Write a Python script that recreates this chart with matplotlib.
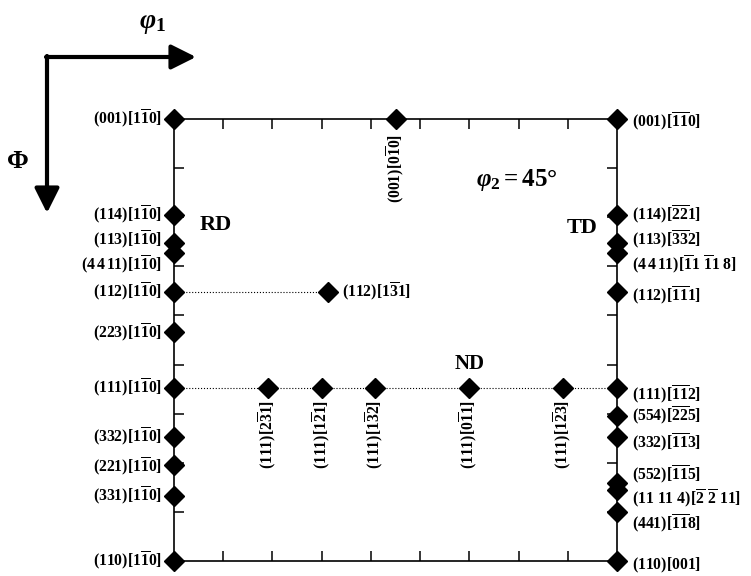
import matplotlib
matplotlib.use("Agg")
import matplotlib.pyplot as plt
from matplotlib.patches import FancyArrowPatch

plt.rcParams['font.family'] = ['Liberation Serif', 'DejaVu Serif']
plt.rcParams['font.weight'] = 'bold'
plt.rcParams['mathtext.fontset'] = 'custom'
plt.rcParams['mathtext.rm'] = 'Liberation Serif:bold'
plt.rcParams['mathtext.bf'] = 'Liberation Serif:bold'
plt.rcParams['mathtext.it'] = 'Liberation Serif:bold:italic'
plt.rcParams['mathtext.default'] = 'rm'

# phi2 = 45 deg section: Phi (deg) of each ideal orientation along phi1 = 0 and phi1 = 90
left_Phi = [0, 19.47, 25.24, 27.22, 35.26, 43.31, 54.74, 64.76, 70.53, 76.74, 90]
left_labels = [r'$(001)[1\overline{1}0]$', r'$(114)[1\overline{1}0]$', r'$(113)[1\overline{1}0]$',
               r'$(4\,4\,11)[1\overline{1}0]$', r'$(112)[1\overline{1}0]$', r'$(223)[1\overline{1}0]$',
               r'$(111)[1\overline{1}0]$', r'$(332)[1\overline{1}0]$', r'$(221)[1\overline{1}0]$',
               r'$(331)[1\overline{1}0]$', r'$(110)[1\overline{1}0]$']

right_Phi = [0, 19.47, 25.24, 27.22, 35.26, 54.74, 60.50, 64.76, 74.21, 75.64, 79.98, 90]
right_labels = [r'$(001)[\overline{11}0]$', r'$(114)[\overline{22}1]$', r'$(113)[\overline{33}2]$',
                r'$(4\,4\,11)[\overline{1}1\ \overline{1}1\ 8]$', r'$(112)[\overline{11}1]$',
                r'$(111)[\overline{11}2]$', r'$(554)[\overline{22}5]$', r'$(332)[\overline{11}3]$',
                r'$(552)[\overline{11}5]$', r'$(11\ 11\ 4)[\overline{2}\ \overline{2}\ 11]$',
                r'$(441)[\overline{11}8]$', r'$(110)[001]$']

# (111) fibre at Phi = 54.74
fib_phi1 = [19.1, 30, 40.9, 60, 79.1]
fib_labels = [r'$(111)[2\overline{3}1]$', r'$(111)[1\overline{2}1]$', r'$(111)[1\overline{3}2]$',
              r'$(111)[0\overline{1}1]$', r'$(111)[1\overline{2}3]$']

top_phi1, top_Phi, top_label = 45, 0, r'$(001)[0\overline{1}0]$'
mid_phi1, mid_Phi, mid_label = 31.3, 35.26, r'$(112)[1\overline{3}1]$'

# label nudges (points, vertical)
left_dy = [0, 0, 2, -9, 0, -1, 0, 0, -1, 0, 0]
right_dy = [-2, 0, 2, -9, -3, -5, 0, -4, 6, -6, -9, -3]

fig = plt.figure(figsize=(7.51, 5.76), dpi=100)
ax = fig.add_axes([174 / 751, 1 - 561 / 576, 443 / 751, 442 / 576])
ax.set_xlim(0, 90)
ax.set_ylim(90, 0)
ax.set_xticks(range(10, 90, 10))
ax.set_yticks(range(10, 90, 10))
ax.tick_params(direction='in', length=7, width=1.1, top=True, right=True,
               labelbottom=False, labelleft=False)
for s in ax.spines.values():
    s.set_linewidth(1.2)

mk = dict(marker='D', color='black', markersize=10, linestyle='none', clip_on=False, zorder=5)

# dotted guide lines
ax.plot([0, 90], [54.74, 54.74], ':', color='black', lw=0.8)
ax.plot([0, mid_phi1], [mid_Phi, mid_Phi], ':', color='black', lw=0.8)

ax.plot([0] * len(left_Phi), left_Phi, **mk)
ax.plot([90] * len(right_Phi), right_Phi, **mk)
ax.plot(fib_phi1, [54.74] * len(fib_phi1), **mk)
ax.plot([top_phi1], [top_Phi], **mk)
ax.plot([mid_phi1], [mid_Phi], **mk)

fs = 11.3
for y, lab, dy in zip(left_Phi, left_labels, left_dy):
    ax.annotate(lab, (0, y), xytext=(-8.5, dy), textcoords='offset points',
                ha='right', va='center', fontsize=fs)
for y, lab, dy in zip(right_Phi, right_labels, right_dy):
    ax.annotate(lab, (90, y), xytext=(11, dy), textcoords='offset points',
                ha='left', va='center', fontsize=fs)
for x, lab in zip(fib_phi1, fib_labels):
    ax.annotate(lab, (x, 54.74), xytext=(0, -9), textcoords='offset points',
                ha='center', va='top', rotation=90, fontsize=fs)
ax.annotate(top_label, (top_phi1, top_Phi), xytext=(0, -11), textcoords='offset points',
            ha='center', va='top', rotation=90, fontsize=fs)
ax.annotate(mid_label, (mid_phi1, mid_Phi), xytext=(10, 0), textcoords='offset points',
            ha='left', va='center', fontsize=fs)

ax.text(8.4, 21.6, 'RD', fontsize=16, ha='center', va='center')
ax.text(82.9, 22.2, 'TD', fontsize=16, ha='center', va='center')
ax.text(60.1, 49.8, 'ND', fontsize=15, ha='center', va='center')
ax.text(69.7, 12.4, r'$\mathit{\varphi}_{2} = 45\degree$', fontsize=18, ha='center', va='center')

# axis-direction arrows
def fig_arrow(x0, y0, x1, y1):
    a = FancyArrowPatch((x0, 576 - y0), (x1, 576 - y1), transform=None,
                        arrowstyle='-|>,head_length=15,head_width=7.5',
                        mutation_scale=1, lw=3, color='black', shrinkA=0, shrinkB=0)
    fig.add_artist(a)

fig_arrow(46, 57, 196, 57)
fig_arrow(47, 56, 47, 213)
fig.text(152 / 751, 1 - 24 / 576, r'$\mathit{\varphi}_{1}$', fontsize=20, ha='center', va='center')
fig.text(18 / 751, 1 - 161 / 576, 'Φ', fontsize=19, ha='center', va='center')

fig.savefig('out.png', dpi=100)
